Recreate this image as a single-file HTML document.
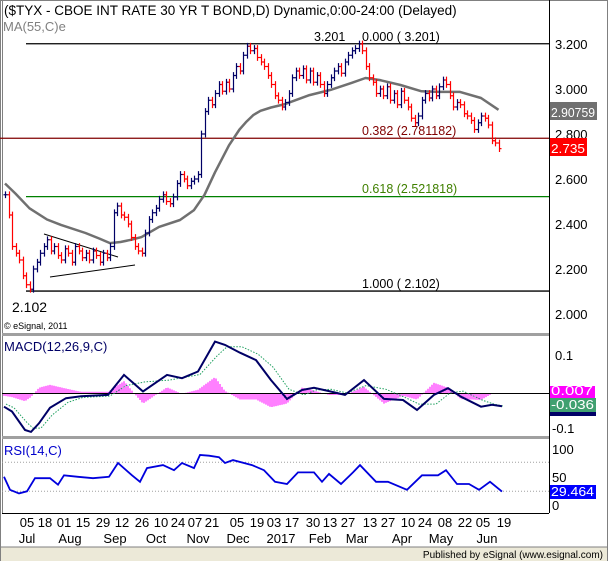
<!DOCTYPE html>
<html><head><meta charset="utf-8">
<style>
html,body{margin:0;padding:0;background:#fff;}
svg{display:block;font-family:"Liberation Sans",Arial,sans-serif;}
</style></head>
<body>
<svg id="chart" width="608" height="561" viewBox="0 0 608 561" xmlns="http://www.w3.org/2000/svg">
<rect x="0" y="0" width="608" height="561" fill="#fff"/>
<rect x="0.5" y="0.5" width="607" height="560" fill="none" stroke="#808080"/>
<rect x="1" y="547" width="606" height="14" fill="#ece9d8"/>
<line x1="0" y1="547" x2="608" y2="547" stroke="#808080"/>
<text x="603" y="558" font-size="10" text-anchor="end" fill="#000">Published by eSignal (www.esignal.com)</text>
<line x1="549.5" y1="0" x2="549.5" y2="513" stroke="#000"/>
<line x1="2.5" y1="0" x2="2.5" y2="513" stroke="#808080"/>
<line x1="2" y1="513.5" x2="549" y2="513.5" stroke="#000"/>
<rect x="2" y="333" width="547" height="3" fill="#a0a0a0"/>
<rect x="2" y="436" width="547" height="3" fill="#a0a0a0"/>
<text x="4" y="15" font-size="13.5" fill="#000">($TYX - CBOE INT RATE 30 YR T BOND,D) Dynamic,0:00-24:00 (Delayed)</text>
<text x="3" y="31" font-size="13" fill="#808080">MA(55,C)e</text>
<g id="main"></g>
<g id="macd"></g>
<g id="rsi"></g>
<g id="xaxis"></g>
</svg>
<script>
const closes=[2.53,2.44,2.30,2.27,2.24, 2.17,2.13,2.11,2.20, 2.23,2.27,2.30,2.33,
2.28,2.30,2.26,2.24,2.29,2.27,2.23,2.30,2.28,2.25,2.27,2.24,2.28,2.26,2.23,2.27,2.25,2.30,
2.45,2.48, 2.44,2.43,2.40, 2.34,2.30,2.28,2.27, 2.36,2.42,2.45,2.47, 2.51,2.53,2.50,2.49,2.52,
2.58,2.62,2.60,2.57,2.59,2.60,2.62, 2.80, 2.90,2.95,2.93, 2.98,3.02,2.99,3.03,3.00,
3.06,3.10,3.08, 3.15,3.19,3.17,3.18, 3.14,3.12,3.10, 3.06,3.02,2.97, 2.95,2.92,2.94,2.98,
3.05,3.08,3.06,3.09,3.04,3.08, 3.03,3.06,3.02,2.98,3.02,3.05, 3.08,3.10,3.07,3.12,3.15,
3.17,3.18,3.20,3.17, 3.10,3.05,3.03,2.98, 3.00,2.97,3.01,2.95,2.98,2.93,2.99,2.95,2.92,
2.87,2.85,2.88, 2.95,2.98,2.96,3.00,2.97,3.01, 3.04,3.02, 2.97,2.92,2.94, 2.93,2.89,2.88,2.86,
2.82,2.85,2.88, 2.87,2.84, 2.77,2.76,2.735];
const maIdx=[0,3,7,12,16,23,27,30,33,36,39,44,50,54,57,60,64,67,69,71,73,76,80,87,93,99,103,107,113,119,124,130,136,141];
const maVal=[2.58,2.535,2.47,2.42,2.396,2.36,2.335,2.315,2.32,2.33,2.342,2.387,2.418,2.462,2.53,2.63,2.75,2.82,2.855,2.885,2.903,2.918,2.933,2.973,2.996,3.027,3.049,3.04,3.018,2.99,2.987,2.987,2.96,2.9076];
const oscX=[4,12,25,31,39,50,66,81,108,124,143,167,182,198,215,225,240,256,271,287,302,314,329,345,364,384,403,417,434,448,461,481,492,502];
const macdVal=[-0.037,-0.05,-0.1,-0.105,-0.082,-0.04,-0.014,-0.009,-0.005,0.049,0.004,0.049,0.04,0.058,0.139,0.13,0.109,0.089,0.035,-0.016,0.008,0.014,0.005,-0.005,0.035,-0.016,-0.019,-0.046,-0.005,0.013,-0.01,-0.037,-0.032,-0.036];
const signalVal=[-0.03,-0.04,-0.08,-0.095,-0.095,-0.06,-0.025,-0.012,-0.008,0.02,0.03,0.035,0.042,0.05,0.10,0.125,0.125,0.105,0.07,0.01,-0.005,0.008,0.01,0.0,0.02,0.01,-0.012,-0.03,-0.03,0.0,0.005,-0.02,-0.03,-0.036];
const rsiX=[4,10,19,27,35,50,58,64,78,93,109,118,132,140,147,163,174,182,194,200,209,219,225,233,252,264,275,287,298,314,322,329,341,353,360,376,388,407,422,438,446,457,469,479,490,502];
const rsiVal=[50,32,27,30,48,48,39,52,50,48,50,69,52,43,62,66,59,69,62,80,79,77,69,73,66,59,43,40,56,56,43,54,40,56,66,43,43,32,52,52,59,40,40,32,43,29.5];
const priceTicks=["3.200","3.000","2.800","2.600","2.400","2.200","2.000"];
const dayLabels=["05","18","01","15","29","12","26","10","24","07","21","05","19","03","17","30","13","27","13","27","10","24","08","22","05","19"];
const dayX=[27,45,64,83,103,122,142,161,178,195,212,237,257,274,292,313,330,348,370,388,408,425,445,465,483,504];
const monthLabels=["Jul","Aug","Sep","Oct","Nov","Dec","2017","Feb","Mar","Apr","May","Jun"];
const monthX=[27,70,115,156,198,238,281,320,357,402,441,487];
const fibLevels=[3.201,2.781182,2.521818,2.102];

const NS="http://www.w3.org/2000/svg";
function mk(parent,tag,attrs){const e=document.createElementNS(NS,tag);for(const k in attrs)e.setAttribute(k,attrs[k]);parent.appendChild(e);return e;}
const xi=i=>5+i*3.5;
const py=p=>44+(3.2-p)*225;
const my=v=>393-v*370;
const ry=v=>513-v*0.725;
const main=document.getElementById('main'),macd=document.getElementById('macd'),rsi=document.getElementById('rsi'),xa=document.getElementById('xaxis');

const fibColors=["#000","#800000","#008000","#000"];
fibLevels.forEach((f,k)=>{
  const l=mk(main,'line',{x1:k==1?0:26,x2:549,y1:py(f),y2:py(f),stroke:fibColors[k],'stroke-width':1.3});
  
  
});
[[44,234,118,257],[50,277,135,265]].forEach((t,k)=>{
  const l=mk(main,'line',{x1:t[0],y1:t[1],x2:t[2],y2:t[3],stroke:'#000','stroke-width':1});
  
  
});
let d='';maIdx.forEach((i,k)=>{d+=(k?'L':'M')+xi(i).toFixed(1)+' '+py(maVal[k]).toFixed(1);});
const ma=mk(main,'path',{d:d,fill:'none',stroke:'#707070','stroke-width':2.5,'stroke-linejoin':'round'});


closes.forEach((c,i)=>{
  const prev=i?closes[i-1]:c;
  const hi=Math.max(c,prev)+0.015,lo=Math.min(c,prev)-0.015;
  const col=c<prev?'#ff0000':'#000066';
  const x=Math.round(xi(i))+0.5;
  const g=mk(main,'g',{stroke:col,'stroke-width':1.2});
  
  
  mk(g,'line',{x1:x,x2:x,y1:py(hi),y2:py(lo)});
  mk(g,'line',{x1:x-2,x2:x,y1:py(prev),y2:py(prev)});
  mk(g,'line',{x1:x,x2:x+2,y1:py(c),y2:py(c)});
});
priceTicks.forEach((t,k)=>{
  const e=mk(main,'text',{x:555,y:py(parseFloat(t))+5,'font-size':13,fill:'#000'});
  e.textContent=t;
  
  
});
function box(parent,x,y,w,h,bg,fg,txt,name){
  const r=mk(parent,'rect',{x:x,y:y,width:w,height:h,fill:bg});
  
  
  const t=mk(parent,'text',{x:x+1,y:y+h-3,'font-size':13,fill:fg,textLength:w-3,lengthAdjust:'spacingAndGlyphs'});
  t.textContent=txt;
  
  
}
box(main,550,102,47,18,'#707070','#fff','2.90759','ma-value-label');
box(main,550,138,37,18,'#ff0000','#fff','2.735','last-price-label');
function lbl(parent,x,y,txt,col,size,name,bold){
  const t=mk(parent,'text',{x:x,y:y,'font-size':size,fill:col});
  if(bold)t.setAttribute('font-weight','bold');
  t.textContent=txt;
  
  
}
lbl(main,314,41,'3.201','#000',12.5,'high-label');
lbl(main,362,41,'0.000 ( 3.201)','#000',12.5,'fib-0-label');
lbl(main,362,135,'0.382 (2.781182)','#800000',12.5,'fib-382-label');
lbl(main,362,193,'0.618 (2.521818)','#408000',12.5,'fib-618-label');
lbl(main,362,288,'1.000 ( 2.102)','#000',12.5,'fib-100-label');
lbl(main,12,312,'2.102','#000',14,'low-label');
lbl(main,4,329,'© eSignal, 2011','#000',9,'copyright');

lbl(macd,4,351,'MACD(12,26,9,C)','#000066',13,'macd-label');
const hx=[];for(let x=4;x<=502;x+=2)hx.push(x);
function interp(X,V,x){for(let k=1;k<X.length;k++){if(x<=X[k]){const t=(x-X[k-1])/(X[k]-X[k-1]);return V[k-1]+t*(V[k]-V[k-1]);}}return V[V.length-1];}
hx.forEach(x=>{
  const h=(interp(oscX,macdVal,x)-interp(oscX,signalVal,x))*1.1;
  const l=mk(macd,'line',{x1:x,x2:x,y1:393,y2:393-h*370,stroke:'#ff00ff','stroke-width':1});
  
  
});
const z=mk(macd,'line',{x1:2,x2:549,y1:393.5,y2:393.5,stroke:'#000','stroke-width':1});


let ds='';oscX.forEach((x,k)=>{ds+=(k?'L':'M')+(x+2)+' '+my(signalVal[k]).toFixed(1);});
const sg=mk(macd,'path',{d:ds,fill:'none',stroke:'#20a060','stroke-width':1,'stroke-dasharray':'1.5 1.5'});


let dm='';oscX.forEach((x,k)=>{dm+=(k?'L':'M')+x+' '+my(macdVal[k]).toFixed(1);});
const ml=mk(macd,'path',{d:dm,fill:'none',stroke:'#000066','stroke-width':2});


lbl(macd,555,360,'0.1','#000',13,'macd-tick');
lbl(macd,552,433,'-0.1','#000',13,'macd-tick');
box(macd,550,386,45,12,'#ff00ff','#fff','0.007','macd-hist-value');
box(macd,550,398,46,14,'#40a070','#fff','-0.036','macd-value');
const nb=mk(macd,'rect',{x:550,y:412,width:46,height:4,fill:'#000066'});



lbl(rsi,4,455,'RSI(14,C)','#0000cc',13,'rsi-label');
[70,30].forEach(v=>{
  const l=mk(rsi,'line',{x1:2,x2:549,y1:ry(v),y2:ry(v),stroke:'#a0a0a0','stroke-dasharray':'1 2'});
  
  
});
let dr='';rsiX.forEach((x,k)=>{dr+=(k?'L':'M')+x+' '+ry(rsiVal[k]).toFixed(1);});
const rl=mk(rsi,'path',{d:dr,fill:'none',stroke:'#0000dd','stroke-width':1.8});


lbl(rsi,552,454,'100','#000',13,'rsi-tick');
lbl(rsi,552,482,'50','#000',13,'rsi-tick');
lbl(rsi,552,510,'0','#000',13,'rsi-tick');
box(rsi,550,485,46,14,'#0000ff','#fff','29.464','rsi-value');

dayLabels.forEach((t,k)=>{
  const e=mk(xa,'text',{x:dayX[k],y:527,'font-size':13,'text-anchor':'middle',fill:'#000'});
  e.textContent=t;
  
  
});
monthLabels.forEach((t,k)=>{
  const e=mk(xa,'text',{x:monthX[k],y:543,'font-size':13,'text-anchor':'middle',fill:'#000'});
  e.textContent=t;
  
  
});
</script>
</body></html>
